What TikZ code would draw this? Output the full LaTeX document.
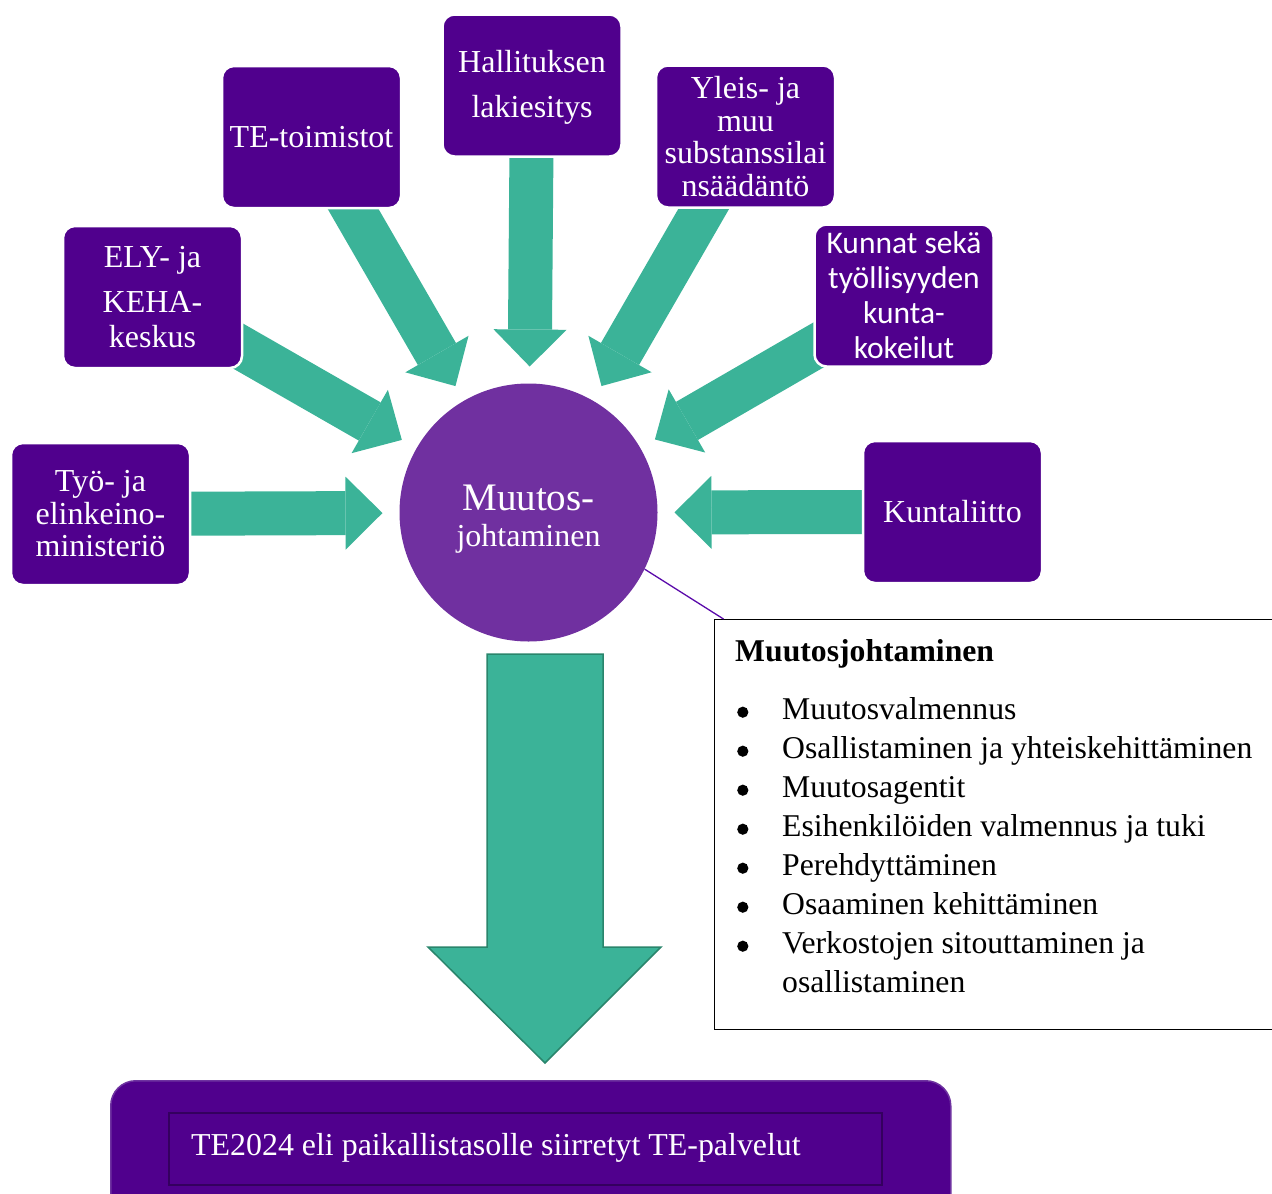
\documentclass[tikz,border=0pt]{standalone}
\usepackage{fontspec}
\setmainfont{Liberation Serif}
\newfontfamily\calibrifont{Carlito}
\usetikzlibrary{arrows.meta,calc,backgrounds}
\definecolor{boxpurple}{RGB}{80,0,141}
\definecolor{circpurple}{RGB}{112,48,160}
\definecolor{tealgreen}{RGB}{59,179,152}
\definecolor{tealdark}{RGB}{42,133,108}
\definecolor{linepurple}{RGB}{90,10,170}
\definecolor{innerborder}{RGB}{52,0,95}
\definecolor{outerborder}{RGB}{110,50,160}
\newcommand{\bulitem}{\makebox[47pt][l]{\hspace{2pt}\tikz[baseline=-7pt]\fill[black] (0pt,0pt) circle (5.6pt);}}
\begin{document}
\begin{tikzpicture}[x=1pt,y=-1pt,
  srcbox/.style={fill=boxpurple, draw=white, line width=2.5pt, rounded corners=12pt,
    minimum width=179pt, minimum height=142pt, inner sep=1pt, align=center,
    text=white, font=\fontsize{32}{32.5}\selectfont},
  fatarrow/.style={draw=tealgreen, line width=44pt,
    -{Triangle[length=37pt,width=73pt,line width=0pt]}},
  bigarrow/.style={fill=tealgreen, draw=tealdark, line width=1.5pt, line join=miter},
]
\useasboundingbox (0,0) rectangle (1272,1194);
\begin{scope}
\clip (0,0) rectangle (1272,1194);

% source boxes
\node[srcbox] (tyo) at (100.5,514) {Työ- ja\\elinkeino-\\ministeriö};
\node[srcbox, font=\fontsize{32}{34.5}\selectfont] (ely) at (152.5,297) {ELY- ja\\[11pt]KEHA-\\keskus};
\node[srcbox] (te) at (311.5,137) {TE-toimistot};
\node[srcbox, font=\fontsize{32}{45}\selectfont] (hall) at (532,85.5) {\rule{0pt}{26pt}Hallituksen\\lakiesitys};
\node[srcbox, font=\fontsize{32}{32.7}\selectfont] (yleis) at (745.5,136.5) {Yleis- ja\\muu\\substanssilai\\nsäädäntö};
\node[srcbox, font=\calibrifont\fontsize{31.5}{35}\selectfont] (kunnat) at (904,295.5) {Kunnat sekä\\työllisyyden\\kunta-\\kokeilut};
\node[srcbox] (kuntal) at (952.5,512) {Kuntaliitto};

% central circle
\node[circle, fill=circpurple, minimum size=258pt, inner sep=0pt, text=white,
  align=center, font=\fontsize{32}{36}\selectfont] (circ) at (528.5,512.5)
  {{\fontsize{39}{39}\selectfont\rule{0pt}{38pt}Muutos-}\\johtaminen};

% fat arrows towards the circle
\begin{pgfonlayer}{background}
\foreach \n in {tyo,ely,te,hall,yleis,kunnat,kuntal}
  \draw[fatarrow] (\n.center) -- ($(circ.center)!146pt!(\n.center)$);
\end{pgfonlayer}

% callout
\node[draw=black, line width=1.3pt, fill=white, minimum width=620pt,
  minimum height=410pt, anchor=north west, inner sep=0pt] (callout) at (713.5,619) {};
\draw[linepurple, line width=1.3pt] (circ.-26) -- ([xshift=10pt]callout.north west);
\node[anchor=north west, inner sep=0pt, align=left,
  font=\fontsize{31.7}{39}\selectfont] (calltext) at (735,639)
  {\textbf{Muutosjohtaminen}\\[19pt]
   \bulitem Muutosvalmennus\\
   \bulitem Osallistaminen ja yhteiskehittäminen\\
   \bulitem Muutosagentit\\
   \bulitem Esihenkilöiden valmennus ja tuki\\
   \bulitem Perehdyttäminen\\
   \bulitem Osaaminen kehittäminen\\
   \bulitem Verkostojen sitouttaminen ja\\
   \hspace*{47pt}osallistaminen};

% big down arrow
\draw[bigarrow] (487,654) -- (603,654) -- (603,947) -- (661,947) -- (545,1063)
  -- (428,947) -- (487,947) -- cycle;

% bottom box
\node[fill=boxpurple, draw=outerborder, line width=1.5pt, rounded corners=25pt,
  minimum width=840pt, minimum height=160pt, anchor=north west, inner sep=0pt]
  (bottombox) at (110,1080) {};
\node[draw=innerborder, line width=2pt, minimum width=713pt, minimum height=72pt,
  inner sep=0pt] (inner) at (525.5,1149) {};
\node[anchor=base west, text=white, font=\fontsize{31.9}{34}\selectfont,
  inner sep=0pt] (te2024) at (191,1155) {TE2024 eli paikallistasolle siirretyt TE-palvelut};
\end{scope}
\end{tikzpicture}
\end{document}
